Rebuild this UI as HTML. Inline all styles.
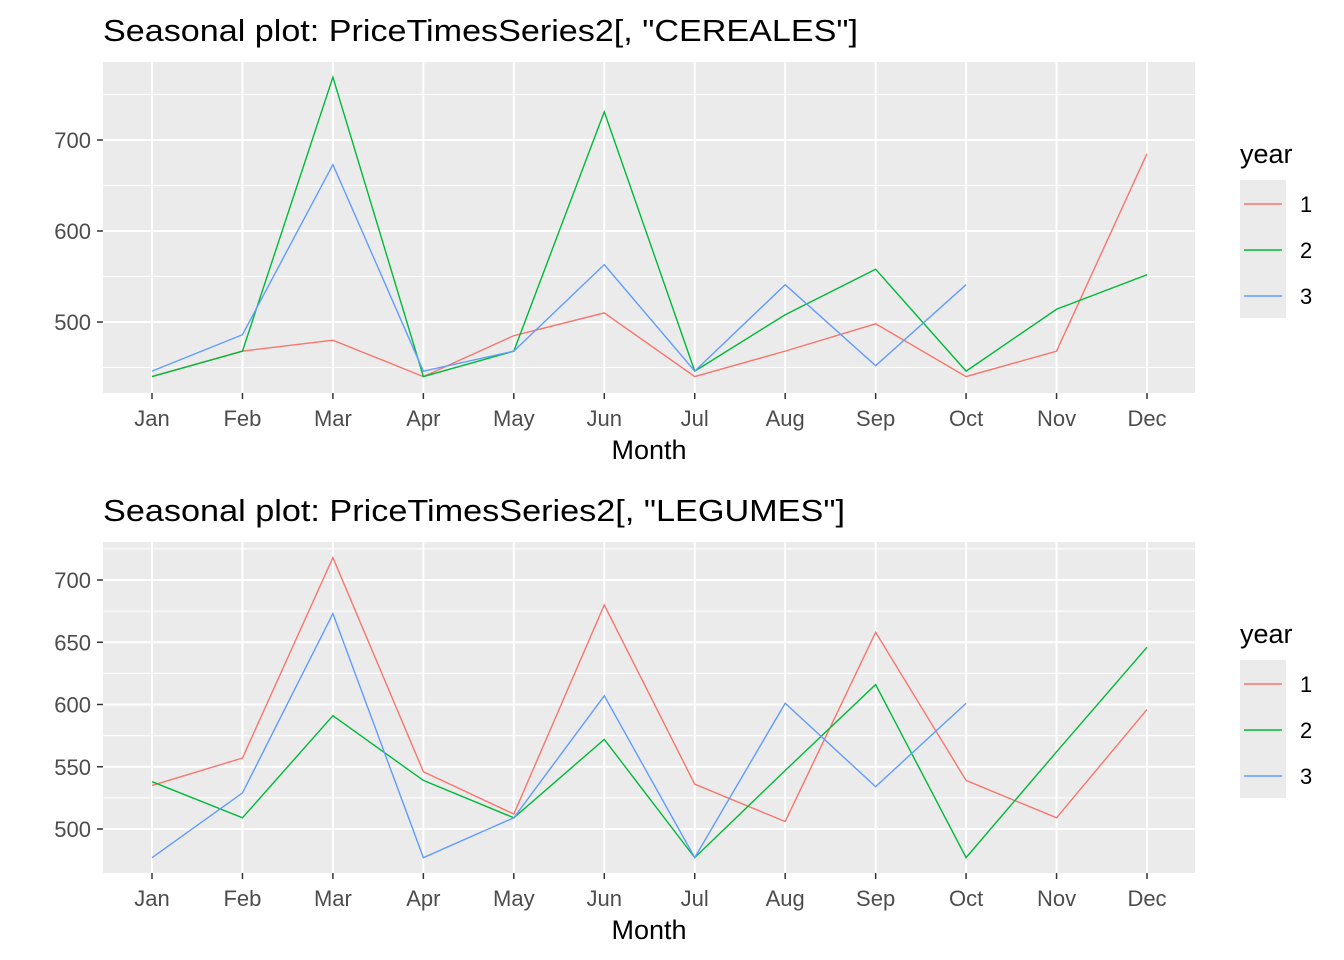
<!DOCTYPE html>
<html><head><meta charset="utf-8"><style>
body{margin:0;background:#fff;}
svg{display:block;font-family:"Liberation Sans",Arial,sans-serif;}
</style></head><body>
<svg id="c" width="1344" height="960"></svg>
<script>
const months=["Jan","Feb","Mar","Apr","May","Jun","Jul","Aug","Sep","Oct","Nov","Dec"];
const years=["1","2","3"];
const colors=["#F8766D","#00BA38","#619CFF"];
const cerY1=[440,468,480,440,485,510,440,468,498,440,468,685];
const cerY2=[440,468,769,440,468,731,446,508,558,446,514,552];
const cerY3=[446,486,673,446,468,563,446,541,452,541];
const legY1=[535,557,718,546,512,680,536,506,658,539,509,596];
const legY2=[538,509,591,539,509,572,477,547,616,477,562,646];
const legY3=[477,529,673,477,509,607,477,601,534,601];
const cerTicks=[500,600,700];
const cerMinor=[450,550,650,750];
const legTicks=[500,550,600,650,700];
const legMinor=[525,575,625,675,725];
const NS="http://www.w3.org/2000/svg";
const svg=document.getElementById('c');
function mk(t,a,p){const e=document.createElementNS(NS,t);for(const k in a)e.setAttribute(k,a[k]);(p||svg).appendChild(e);return e;}
function panel(cfg){
  const g=mk('g',{});
  
  
  const L=103,R=1195,T=cfg.top,B=cfg.bottom;
  const x=i=>152+i*(1147-152)/11;
  const y=v=>cfg.y0-(v-cfg.v0)*cfg.k;
  const t=mk('text',{x:103,y:T-21,'font-size':31,fill:'#000',textLength:cfg.titleLen,lengthAdjust:'spacingAndGlyphs'},g);t.textContent=cfg.title;
  
  const bg=mk('rect',{x:L,y:T,width:R-L,height:B-T,fill:'#EBEBEB'},g);
  
  cfg.minor.forEach(v=>{const yy=y(v);if(yy>T&&yy<B)mk('line',{x1:L,x2:R,y1:yy,y2:yy,stroke:'#fff','stroke-width':1},g);});
  cfg.ticks.forEach(v=>{const yy=y(v);mk('line',{x1:L,x2:R,y1:yy,y2:yy,stroke:'#fff','stroke-width':2},g);
    mk('line',{x1:97,x2:103,y1:yy,y2:yy,stroke:'#333','stroke-width':1.5},g);
    const tl=mk('text',{x:91,y:yy+8,'font-size':22,fill:'#4D4D4D','text-anchor':'end'},g);tl.textContent=v;
    });
  months.forEach((m,i)=>{const xx=x(i);mk('line',{x1:xx,x2:xx,y1:T,y2:B,stroke:'#fff','stroke-width':2},g);
    mk('line',{x1:xx,x2:xx,y1:B,y2:B+6,stroke:'#333','stroke-width':1.5},g);
    const tl=mk('text',{x:xx,y:B+33,'font-size':22,fill:'#4D4D4D','text-anchor':'middle'},g);tl.textContent=m;
    });
  const xt=mk('text',{x:649,y:B+66,'font-size':27,fill:'#000','text-anchor':'middle'},g);xt.textContent='Month';
  
  cfg.series.forEach((s,si)=>{const p=mk('polyline',{points:s.map((v,i)=>x(i)+','+y(v)).join(' '),fill:'none',stroke:colors[si],'stroke-width':1.4},g);
    });
  const ly=cfg.legTop;
  const lt=mk('text',{x:1240,y:ly-17,'font-size':27,fill:'#000'},g);lt.textContent='year';
  
  mk('rect',{x:1240,y:ly,width:46,height:138,fill:'#EBEBEB'},g);
  years.forEach((yr,i)=>{const yy=ly+24+i*46;
    const ln=mk('line',{x1:1244,x2:1282,y1:yy,y2:yy,stroke:colors[i],'stroke-width':1.5},g);
    
    const tx=mk('text',{x:1300,y:yy+8,'font-size':22,fill:'#000'},g);tx.textContent=yr;
    });
}
panel({name:'cereales-panel',title:'Seasonal plot: PriceTimesSeries2[, "CEREALES"]',titleLen:755,top:62,bottom:393,y0:322,v0:500,k:0.91,ticks:cerTicks,minor:cerMinor,series:[cerY1,cerY2,cerY3],legTop:180});
panel({name:'legumes-panel',title:'Seasonal plot: PriceTimesSeries2[, "LEGUMES"]',titleLen:742,top:542,bottom:873,y0:829,v0:500,k:1.245,ticks:legTicks,minor:legMinor,series:[legY1,legY2,legY3],legTop:660});
</script>
</body></html>
